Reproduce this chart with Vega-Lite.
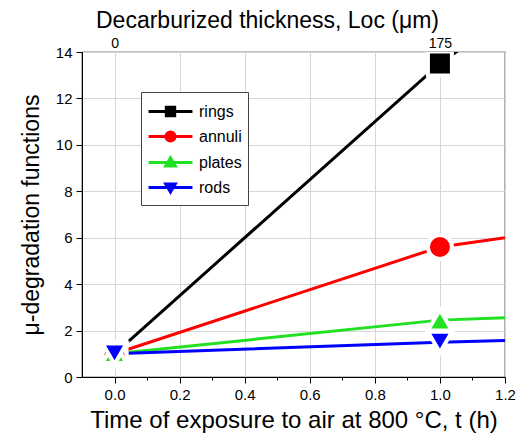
{
  "$schema": "https://vega.github.io/schema/vega-lite/v6.json",
  "width": 423,
  "height": 325,
  "autosize": {"type": "none"},
  "padding": {"left": 82, "top": 52, "right": 21, "bottom": 64},
  "config": {
    "font": "Liberation Sans",
    "view": {"stroke": "#000", "strokeWidth": 1.2},
    "axis": {
      "grid": true,
      "gridOpacity": 1,
      "gridWidth": 1,
      "labelFont": "Liberation Sans",
      "titleFont": "Liberation Sans",
      "labelColor": "#000",
      "titleColor": "#000",
      "tickColor": "#000",
      "domainColor": "#000",
      "labelFontSize": 15,
      "titleFontSize": 23,
      "titleFontWeight": "normal"
    }
  },
  "datasets": {
    "lines": [
      {"s": "rings", "t": 0, "v": 1},
      {"s": "rings", "t": 1, "v": 13.5},
      {"s": "rings", "t": 1.2, "v": 15.5},
      {"s": "annuli", "t": 0, "v": 1},
      {"s": "annuli", "t": 1, "v": 5.6},
      {"s": "annuli", "t": 1.2, "v": 6.0},
      {"s": "plates", "t": 0, "v": 1},
      {"s": "plates", "t": 1, "v": 2.45},
      {"s": "plates", "t": 1.2, "v": 2.55},
      {"s": "rods", "t": 0, "v": 1},
      {"s": "rods", "t": 1, "v": 1.5},
      {"s": "rods", "t": 1.2, "v": 1.57}
    ],
    "points": [
      {"s": "rings", "t": 0, "v": 1},
      {"s": "rings", "t": 1, "v": 13.5},
      {"s": "annuli", "t": 0, "v": 0.95},
      {"s": "annuli", "t": 1, "v": 5.6},
      {"s": "plates", "t": 0, "v": 1.05},
      {"s": "plates", "t": 1, "v": 2.45},
      {"s": "rods", "t": 0, "v": 1},
      {"s": "rods", "t": 1, "v": 1.5}
    ],
    "series": [
      {"s": "rings", "t": 0, "v": 1},
      {"s": "annuli", "t": 0, "v": 1},
      {"s": "plates", "t": 0, "v": 1},
      {"s": "rods", "t": 0, "v": 1}
    ]
  },
  "layer": [
    {
      "data": {"name": "lines"},
      "mark": {"type": "line", "strokeWidth": 3, "clip": true},
      "encoding": {
        "x": {
          "field": "t", "type": "quantitative",
          "scale": {"domain": [-0.1, 1.2], "nice": false, "zero": false},
          "axis": {
            "orient": "bottom",
            "title": "Time of exposure to air at 800 °C, t (h)",
            "titleFontSize": 24,
            "values": [0, 0.1, 0.2, 0.3, 0.4, 0.5, 0.6, 0.7, 0.8, 0.9, 1.0, 1.1, 1.2],
            "labelExpr": "round(datum.value*10)%2==0 ? format(datum.value,'.1f') : ''",
            "tickSize": {"condition": {"test": "round(datum.value*10)%2==1", "value": 3}, "value": 6},
            "gridColor": {"condition": {"test": "round(datum.value*10)%2==1", "value": "transparent"}, "value": "#d6d6d6"},
            "grid": true,
            "labelPadding": 4,
            "titlePadding": 6,
            "labelFlush": false
          }
        },
        "y": {
          "field": "v", "type": "quantitative",
          "scale": {"domain": [0, 14], "nice": false},
          "axis": {
            "title": "μ-degradation functions",
            "values": [0, 1, 2, 3, 4, 5, 6, 7, 8, 9, 10, 11, 12, 13, 14],
            "labelExpr": "datum.value%2==0 ? datum.value : ''",
            "tickSize": {"condition": {"test": "datum.value%2==1", "value": 3}, "value": 6},
            "gridColor": {"condition": {"test": "datum.value%2==1", "value": "transparent"}, "value": "#d6d6d6"},
            "grid": true,
            "labelPadding": 4,
            "titlePadding": 12
          }
        },
        "color": {
          "field": "s", "type": "nominal",
          "scale": {"domain": ["rings", "annuli", "plates", "rods"], "range": ["#000000", "#ff0000", "#22e022", "#0000ff"]}
        },
        "order": {"field": "t"}
      }
    },
    {
      "data": {"name": "points"},
      "transform": [{"filter": "datum.s == 'rings'"}],
      "mark": {"type": "point", "shape": "square", "filled": true, "size": 576, "opacity": 1, "stroke": "white", "strokeWidth": 4, "clip": true},
      "encoding": {
        "x": {"field": "t", "type": "quantitative", "axis": null},
        "y": {"field": "v", "type": "quantitative"},
        "color": {"field": "s", "type": "nominal"}
      }
    },
    {
      "data": {"name": "points"},
      "transform": [{"filter": "datum.s == 'annuli'"}],
      "mark": {"type": "point", "shape": "circle", "filled": true, "size": 576, "opacity": 1, "stroke": "white", "strokeWidth": 4, "clip": true},
      "encoding": {
        "x": {"field": "t", "type": "quantitative", "axis": null},
        "y": {"field": "v", "type": "quantitative"},
        "color": {"field": "s", "type": "nominal"}
      }
    },
    {
      "data": {"name": "points"},
      "transform": [{"filter": "datum.s == 'plates'"}],
      "mark": {"type": "point", "shape": "triangle-up", "filled": true, "size": 576, "opacity": 1, "stroke": "white", "strokeWidth": 4, "clip": true},
      "encoding": {
        "x": {"field": "t", "type": "quantitative", "axis": null},
        "y": {"field": "v", "type": "quantitative"},
        "color": {"field": "s", "type": "nominal"}
      }
    },
    {
      "data": {"name": "points"},
      "transform": [{"filter": "datum.s == 'rods'"}],
      "mark": {"type": "point", "shape": "triangle-down", "filled": true, "size": 576, "opacity": 1, "stroke": "white", "strokeWidth": 4, "clip": true},
      "encoding": {
        "x": {"field": "t", "type": "quantitative", "axis": null},
        "y": {"field": "v", "type": "quantitative"},
        "color": {"field": "s", "type": "nominal"}
      }
    },
    {
      "data": {"name": "series"},
      "mark": {"type": "point", "filled": true, "opacity": 0},
      "encoding": {
        "x": {
          "field": "t", "type": "quantitative",
          "axis": {
            "orient": "top",
            "title": "Decarburized thickness,  Loc (μm)",
            "titleX": 185,
            "labelFontSize": 14,
            "values": [0, 1],
            "labelExpr": "datum.value == 0 ? '0' : '175'",
            "tickSize": 0,
            "domain": false,
            "grid": false,
            "labelPadding": 2,
            "titlePadding": 4
          }
        },
        "y": {"field": "v", "type": "quantitative"},
        "color": {
          "field": "s", "type": "nominal",
          "legend": {
            "title": null,
            "orient": "none",
            "legendX": 59,
            "legendY": 40,
            "strokeColor": "#444",
            "fillColor": "white",
            "padding": 6,
            "labelFontSize": 16,
            "labelFont": "Liberation Sans",
            "labelColor": "#000",
            "symbolSize": 576,
            "symbolStrokeWidth": 3,
            "symbolOpacity": 1,
            "symbolOffset": 10,
            "labelOffset": 15,
            "rowPadding": 1,
            "encode": {
              "symbols": {"update": {"opacity": {"value": 1}, "stroke": {"scale": "color", "field": "value"}, "fill": {"scale": "color", "field": "value"}, "strokeWidth": {"value": 3}}}
            }
          }
        },
        "shape": {
          "field": "s", "type": "nominal",
          "scale": {
            "domain": ["rings", "annuli", "plates", "rods"],
            "range": [
              "M-1.83,0H1.83M-0.35,-0.35H0.35V0.35H-0.35Z",
              "M-1.83,0H1.83M0.38,0A0.38,0.38,0,1,1,-0.38,0A0.38,0.38,0,1,1,0.38,0Z",
              "M-1.83,0H1.83M0,-0.38L0.4,0.3H-0.4Z",
              "M-1.83,0H1.83M0,0.38L0.4,-0.3H-0.4Z"
            ]
          },
          "legend": {
            "title": null,
            "orient": "none",
            "legendX": 59,
            "legendY": 40,
            "strokeColor": "#444",
            "fillColor": "white",
            "padding": 6,
            "labelFontSize": 16,
            "labelFont": "Liberation Sans",
            "labelColor": "#000",
            "symbolSize": 576,
            "symbolStrokeWidth": 3,
            "symbolOpacity": 1,
            "symbolOffset": 10,
            "labelOffset": 15,
            "rowPadding": 1,
            "encode": {
              "symbols": {"update": {"opacity": {"value": 1}, "stroke": {"scale": "color", "field": "value"}, "fill": {"scale": "color", "field": "value"}, "strokeWidth": {"value": 3}}}
            }
          }
        }
      }
    }
  ],
  "resolve": {
    "axis": {"x": "independent"}
  }
}
